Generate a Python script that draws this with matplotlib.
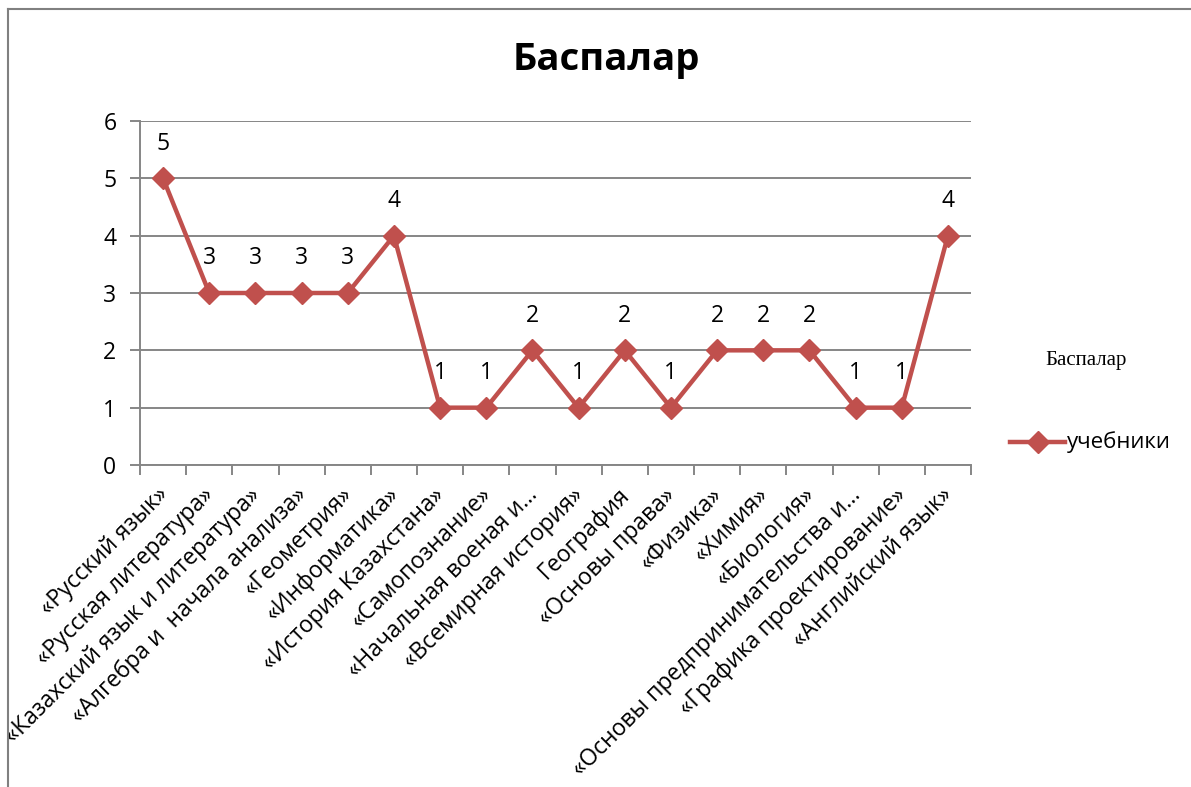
import matplotlib
matplotlib.use("Agg")
import matplotlib.pyplot as plt
from matplotlib.lines import Line2D
from matplotlib.transforms import ScaledTranslation

categories = [
    "«Русский язык»",
    "«Русская литература»",
    "«Казахский язык и литература»",
    "«Алгебра и  начала анализа»",
    "«Геометрия»",
    "«Информатика»",
    "«История Казахстана»",
    "«Самопознание»",
    "«Начальная военая и...",
    "«Всемирная история»",
    "География",
    "«Основы права»",
    "«Физика»",
    "«Химия»",
    "«Биология»",
    "«Основы предпринимательства и...",
    "«Графика проектирование»",
    "«Английский язык»",
]
values = [5, 3, 3, 3, 3, 4, 1, 1, 2, 1, 2, 1, 2, 2, 2, 1, 1, 4]
series_name = "учебники"
title = "Баспалар"
y_ticks = [0, 1, 2, 3, 4, 5, 6]

W, H = 1191, 787
fig = plt.figure(figsize=(W / 100, H / 100), dpi=100)
plt.rcParams['font.family'] = ['Open Sans', 'DejaVu Sans']

red = "#C0504D"
grid_c = "#868686"

ax = fig.add_axes([140 / W, 1 - 465 / H, (971 - 140) / W, (465 - 121) / H])
n = len(categories)
xs = list(range(n))
ax.plot(xs, values, color=red, lw=3.2, marker="D", markersize=11,
        markerfacecolor=red, markeredgecolor=red, zorder=3, clip_on=False)
for x, v in zip(xs, values):
    ax.annotate(str(v), (x, v), xytext=(0, 25), textcoords="offset points",
                ha="center", va="center", fontsize=16.5, color="black")

ax.set_xlim(-0.5, n - 0.5)
ax.set_ylim(0, 6)
ax.set_yticks(y_ticks)
ax.set_yticklabels([str(t) for t in y_ticks], fontsize=16.5)
ax.yaxis.grid(True, color=grid_c, lw=1.4)
ax.set_axisbelow(True)
ax.tick_params(axis="y", length=7, color=grid_c, width=1.4, pad=10)

# category ticks at boundaries
ax.set_xticks([i - 0.5 for i in range(n + 1)], minor=False)
ax.set_xticklabels([])
ax.tick_params(axis="x", which="major", length=7, color=grid_c, width=1.4)
ax.set_xticks(xs, minor=True)
ax.set_xticklabels(categories, minor=True, rotation=45, ha="right",
                   rotation_mode="anchor", fontsize=16.5)
ax.tick_params(axis="x", which="minor", length=0, pad=13)
shift = ScaledTranslation(-7 / 100, 0, fig.dpi_scale_trans)
for lbl in ax.get_xticklabels(minor=True):
    lbl.set_transform(lbl.get_transform() + shift)

for s in ["top", "right"]:
    ax.spines[s].set_visible(False)
for s in ["left", "bottom"]:
    ax.spines[s].set_color(grid_c)
    ax.spines[s].set_linewidth(1.4)

fig.text(606 / W, 1 - 60 / H, title, ha="center", va="center",
         fontsize=27.5, fontweight="bold")

# legend area
fig.text(1086 / W, 1 - 361 / H, title, ha="center", va="center",
         fontsize=15, family=["Liberation Serif", "DejaVu Serif"])
leg = Line2D([1010 / W, 1065 / W], [1 - 442 / H, 1 - 442 / H], color=red,
             lw=3.2, transform=fig.transFigure)
fig.add_artist(leg)
legm = Line2D([1038 / W], [1 - 442 / H], color=red, marker="D", markersize=11,
              transform=fig.transFigure)
fig.add_artist(legm)
fig.text(1067 / W, 1 - 442 / H, series_name, ha="left", va="center", fontsize=16)

# chart border
fig.add_artist(Line2D([8 / W, 1], [1 - 9 / H, 1 - 9 / H], color="#808080",
                      lw=1.5, transform=fig.transFigure))
fig.add_artist(Line2D([8 / W, 8 / W], [0, 1 - 9 / H], color="#808080",
                      lw=1.5, transform=fig.transFigure))

fig.savefig("out.png", dpi=100)
